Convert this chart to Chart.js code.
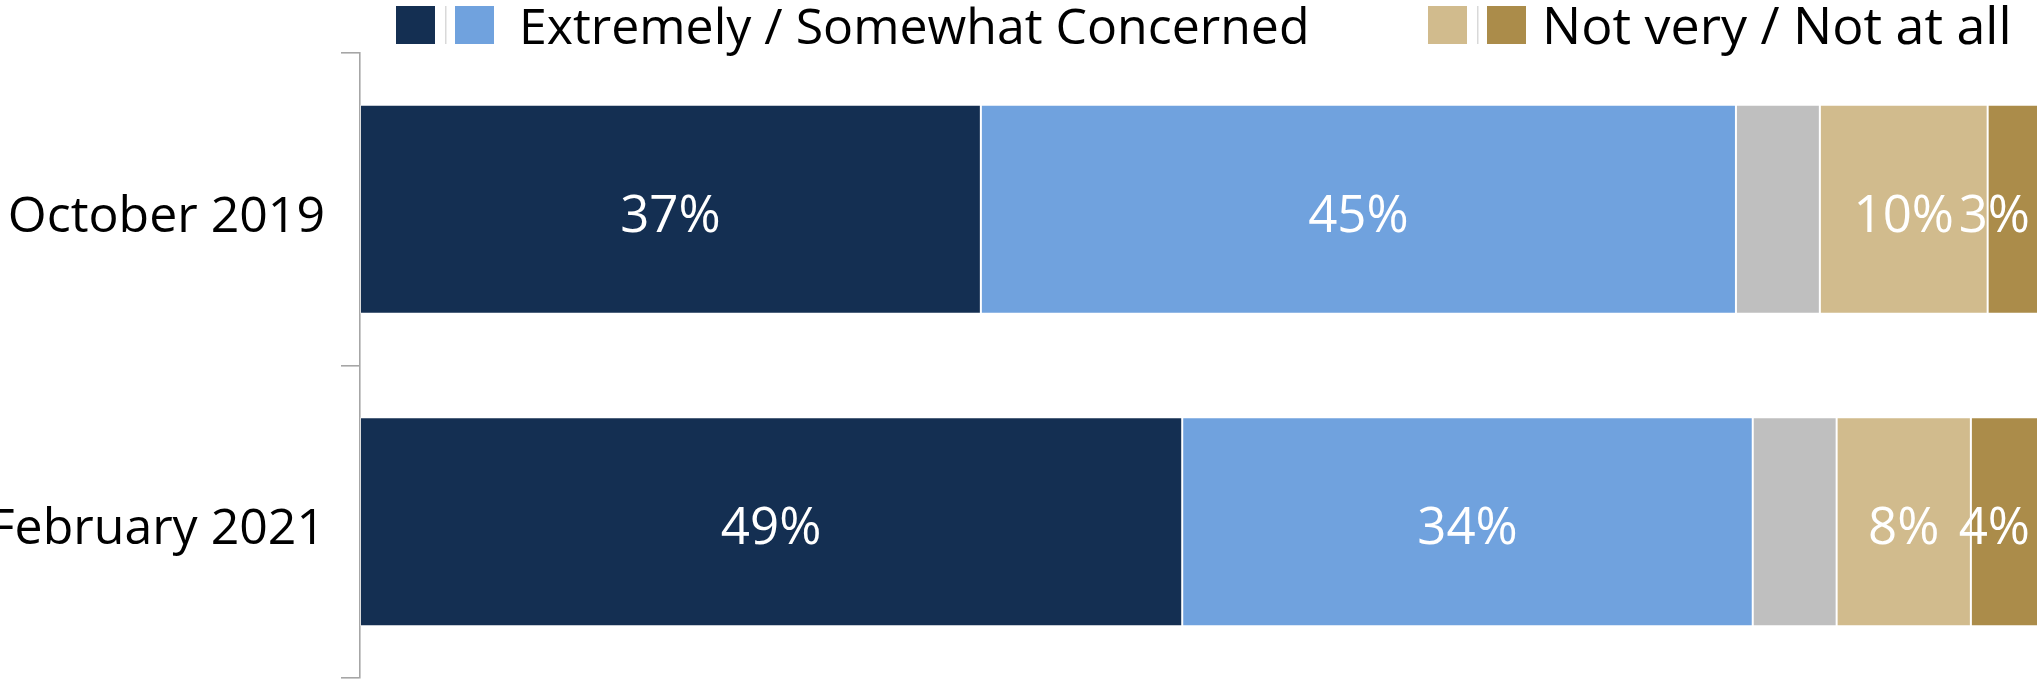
<!DOCTYPE html>
<html>
<head>
<meta charset="utf-8">
<script src="https://cdn.jsdelivr.net/npm/chart.js@4/dist/chart.umd.min.js"></script>
<style>
html,body{margin:0;padding:0;background:#fff;overflow:hidden}
</style>
</head>
<body>
<canvas id="chart" width="2038" height="683"></canvas>
<script>
// --- data ---
const categories = ['October 2019', 'February 2021'];
const extremely = [37, 49];
const somewhat = [45, 34];
const notSure = [5, 5];
const notVery = [10, 8];
const notAtAll = [3, 4];
const legendGroups = ['Extremely / Somewhat Concerned', 'Not very / Not at all'];

const NAVY = '#142f52', BLUE = '#70a2de', GREY = '#bfbfbf', TAN = '#d1bb8d', GOLD = '#ab8c4a';
const AXIS = '#a6a6a6';
const FONT = "'Open Sans', sans-serif";

// legend: two pairs of swatches with a thin divider, then the group text
const pairLegend = {
  id: 'pairLegend',
  afterDraw(chart) {
    const c = chart.ctx;
    const groups = [
      { x: 396, colors: [NAVY, BLUE], text: legendGroups[0], size: 50, gap: 123 },
      { x: 1428, colors: [TAN, GOLD], text: legendGroups[1], size: 52, gap: 114 }
    ];
    c.save();
    c.textBaseline = 'alphabetic';
    groups.forEach(g => {
      c.fillStyle = g.colors[0];
      c.fillRect(g.x, 6, 39, 38);
      c.fillStyle = '#d9d9d9';
      c.fillRect(g.x + 49, 6, 1.5, 38);
      c.fillStyle = g.colors[1];
      c.fillRect(g.x + 59, 6, 39, 38);
      c.fillStyle = '#000';
      c.font = `${g.size}px ${FONT}`;
      c.fillText(g.text, g.x + g.gap, 44);
    });
    c.restore();
  }
};

// percent labels inside the segments, pulled back in if they would run off the right edge
const segLabels = {
  id: 'segLabels',
  afterDatasetsDraw(chart) {
    const c = chart.ctx, area = chart.chartArea;
    c.save();
    c.font = `51px ${FONT}`;
    c.fillStyle = '#fff';
    c.textBaseline = 'middle';
    c.textAlign = 'left';
    chart.data.datasets.forEach((ds, i) => {
      if (ds.noLabel) return;
      chart.getDatasetMeta(i).data.forEach((bar, j) => {
        const txt = ds.data[j] + '%';
        const w = c.measureText(txt).width;
        let x = (bar.base + bar.x) / 2 - w / 2;
        if (x + w > area.right - 8) x = area.right - 8 - w;
        c.fillText(txt, x, bar.y + 8);
      });
    });
    c.restore();
  }
};

const mk = (label, data, color, extra) => Object.assign({
  label, data, backgroundColor: color,
  borderColor: 'rgba(255,255,255,0.35)', borderWidth: 1, borderSkipped: false,
  barPercentage: 0.669, categoryPercentage: 1
}, extra || {});

new Chart(document.getElementById('chart'), {
  type: 'bar',
  data: {
    labels: categories,
    datasets: [
      mk('Extremely concerned', extremely, NAVY),
      mk('Somewhat concerned', somewhat, BLUE),
      mk('Not sure', notSure, GREY, { noLabel: true }),
      mk('Not very concerned', notVery, TAN),
      mk('Not at all concerned', notAtAll, GOLD)
    ]
  },
  options: {
    indexAxis: 'y',
    responsive: false,
    devicePixelRatio: 1,
    animation: false,
    layout: { padding: { top: 53, bottom: 5, left: 0, right: 0 } },
    plugins: { legend: { display: false }, tooltip: { enabled: false } },
    scales: {
      x: { stacked: true, min: 0, max: 100, display: false },
      y: {
        stacked: true,
        offset: true,
        // fixed axis width, and no extra room reserved for half-labels at the ends
        afterFit(s) { s.width = 360; s.paddingTop = 0; s.paddingBottom = 0; },
        border: { color: AXIS, width: 1.6 },
        grid: { drawOnChartArea: false, offset: true, tickLength: 19, color: AXIS, lineWidth: 1.6 },
        ticks: { padding: 16, labelOffset: 8, color: '#000', font: { family: FONT, size: 50 } }
      }
    }
  },
  plugins: [segLabels, pairLegend]
});
</script>
</body>
</html>
